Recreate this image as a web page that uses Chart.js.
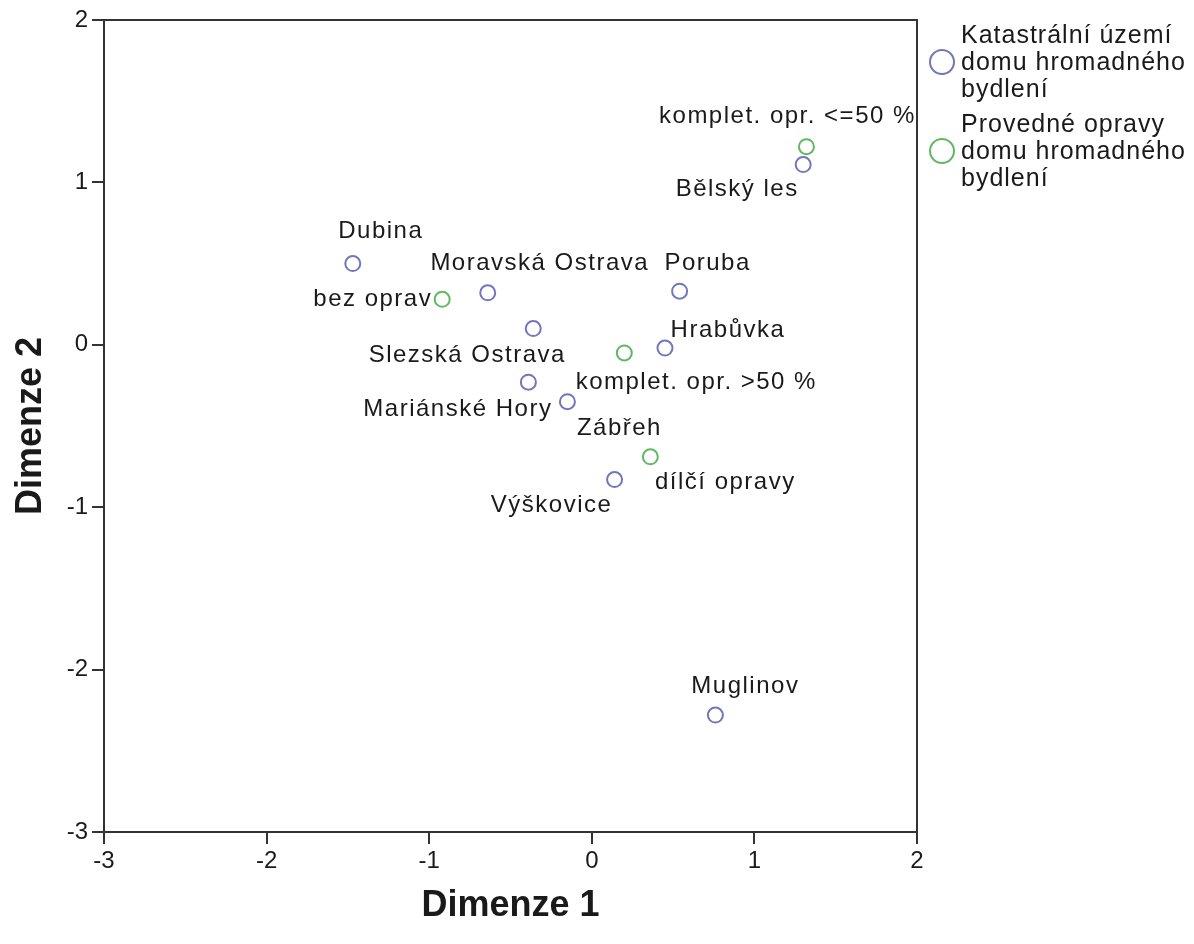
<!DOCTYPE html>
<html lang="cs">
<head>
  <meta charset="UTF-8">
  <title>Dimenze 1 × Dimenze 2</title>
  <script src="https://cdn.jsdelivr.net/npm/chart.js"></script>
  <style>
    html, body { margin: 0; padding: 0; background: #fff; }
    .chart-box { position: relative; width: 1194px; height: 944px; }
  </style>
</head>
<body>
  <div class="chart-box">
    <canvas id="mapChart"></canvas>
  </div>

  <script>
    // Katastrální území
    const areaNames = ['Dubina', 'Moravská Ostrava', 'Poruba', 'Slezská Ostrava', 'Hrabůvka',
                       'Mariánské Hory', 'Zábřeh', 'Výškovice', 'Muglinov', 'Bělský les'];
    const areaDim1 = [-1.47, -0.64, 0.54, -0.36, 0.45, -0.39, -0.15, 0.14, 0.76, 1.30];
    const areaDim2 = [0.50, 0.32, 0.33, 0.10, -0.02, -0.23, -0.35, -0.83, -2.28, 1.11];

    // Provedené opravy
    const repairNames = ['bez oprav', 'komplet. opr. >50 %', 'dílčí opravy', 'komplet. opr. <=50 %'];
    const repairDim1 = [-0.92, 0.20, 0.36, 1.32];
    const repairDim2 = [0.28, -0.05, -0.69, 1.22];

    const axisTicks = [-3, -2, -1, 0, 1, 2];
    const legendLines = [
      ['Katastrální území', 'domu hromadného', 'bydlení'],
      ['Provedné opravy', 'domu hromadného', 'bydlení']
    ];

    // kde stojí popisky vůči bodu (px): dx, dy, zarovnání
    const areaLabelPos = [
      [28, -32, 'center'], [52, -29, 'center'], [28, -28, 'center'], [-66, 27, 'center'],
      [63, -18, 'center'], [24, 27, 'right'], [52, 27, 'center'], [-63, 26, 'center'],
      [30, -29, 'center'], [-66, 25, 'center']
    ];
    const repairLabelPos = [
      [-10, 0, 'right'], [72, 29, 'center'], [75, 26, 'center'], [-19, -30, 'center']
    ];

    const FONT = '"Liberation Sans", Arial, sans-serif';
    const BLUE = '#7276bb';
    const GREEN = '#62b862';
    const INK = '#1a1a1a';

    const toPoints = (xs, ys) => xs.map((x, i) => ({ x: x, y: ys[i] }));

    // popisky bodů
    const pointLabels = {
      id: 'pointLabels',
      afterDatasetsDraw(chart) {
        const ctx = chart.ctx;
        const sets = [[areaNames, areaLabelPos], [repairNames, repairLabelPos]];
        ctx.save();
        ctx.font = '24px ' + FONT;
        ctx.letterSpacing = '1.5px';
        ctx.fillStyle = INK;
        ctx.textBaseline = 'middle';
        sets.forEach(([names, pos], di) => {
          chart.getDatasetMeta(di).data.forEach((pt, i) => {
            ctx.textAlign = pos[i][2];
            ctx.fillText(names[i], pt.x + pos[i][0], pt.y + pos[i][1]);
          });
        });
        ctx.restore();
      }
    };

    // rámeček kolem grafu
    const frame = {
      id: 'frame',
      beforeDatasetsDraw(chart) {
        const { left, top, right, bottom } = chart.chartArea;
        const ctx = chart.ctx;
        ctx.save();
        ctx.strokeStyle = '#333';
        ctx.lineWidth = 2;
        ctx.strokeRect(left, top, right - left, bottom - top);
        ctx.restore();
      }
    };

    // legenda vpravo
    const sideLegend = {
      id: 'sideLegend',
      afterDraw(chart) {
        const ctx = chart.ctx;
        const { right, top } = chart.chartArea;
        const colors = [BLUE, GREEN];
        ctx.save();
        ctx.font = '25px ' + FONT;
        ctx.letterSpacing = '1px';
        ctx.textBaseline = 'middle';
        ctx.textAlign = 'left';
        legendLines.forEach((lines, k) => {
          const y0 = top + 16 + k * 89;
          ctx.beginPath();
          ctx.arc(right + 25, y0 + 26, 12, 0, Math.PI * 2);
          ctx.strokeStyle = colors[k];
          ctx.lineWidth = 2;
          ctx.stroke();
          ctx.fillStyle = INK;
          lines.forEach((t, j) => ctx.fillText(t, right + 44, y0 + j * 27));
        });
        ctx.restore();
      }
    };

    new Chart(document.getElementById('mapChart'), {
      type: 'scatter',
      data: {
        datasets: [
          {
            label: legendLines[0].join(' '),
            data: toPoints(areaDim1, areaDim2),
            borderColor: BLUE,
            backgroundColor: 'rgba(0,0,0,0)',
            borderWidth: 2,
            pointRadius: 7.5,
            pointHoverRadius: 7.5
          },
          {
            label: legendLines[1].join(' '),
            data: toPoints(repairDim1, repairDim2),
            borderColor: GREEN,
            backgroundColor: 'rgba(0,0,0,0)',
            borderWidth: 2,
            pointRadius: 7.5,
            pointHoverRadius: 7.5
          }
        ]
      },
      options: {
        responsive: true,
        maintainAspectRatio: false,
        animation: false,
        layout: { padding: { top: 20, right: 277, left: 0, bottom: 0 } },
        plugins: {
          legend: { display: false },
          tooltip: { enabled: false }
        },
        scales: {
          x: {
            type: 'linear',
            min: axisTicks[0],
            max: axisTicks[axisTicks.length - 1],
            afterBuildTicks: s => { s.ticks = axisTicks.map(v => ({ value: v })); },
            afterFit: s => { s.height = 112; },
            grid: { display: true, drawOnChartArea: false, drawTicks: true, tickLength: 12, color: '#333', lineWidth: 2 },
            border: { display: true, color: '#333', width: 2 },
            ticks: { color: INK, padding: 3, font: { family: FONT, size: 24 } },
            title: {
              display: true, text: 'Dimenze 1', color: INK,
              font: { family: FONT, size: 36, weight: 'bold', lineHeight: 1.0 },
              padding: { top: 0, bottom: 20 }
            }
          },
          y: {
            type: 'linear',
            min: axisTicks[0],
            max: axisTicks[axisTicks.length - 1],
            afterBuildTicks: s => { s.ticks = axisTicks.map(v => ({ value: v })); },
            afterFit: s => { s.width = 104; },
            grid: { display: true, drawOnChartArea: false, drawTicks: true, tickLength: 12, color: '#333', lineWidth: 2 },
            border: { display: true, color: '#333', width: 2 },
            ticks: { color: INK, padding: 4, font: { family: FONT, size: 24 } },
            title: {
              display: true, text: 'Dimenze 2', color: INK,
              font: { family: FONT, size: 36, weight: 'bold', lineHeight: 1.0 },
              padding: { top: 13, bottom: 0 }
            }
          }
        }
      },
      plugins: [frame, pointLabels, sideLegend]
    });
  </script>
</body>
</html>
